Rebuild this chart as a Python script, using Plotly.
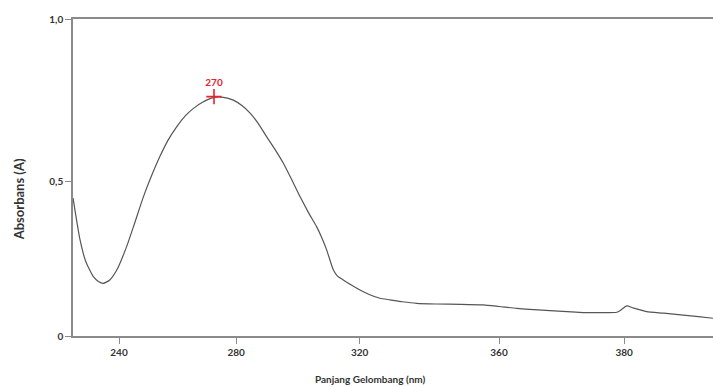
import plotly.graph_objects as go

# Spectrum
wavelength_nm = [225.5, 226.2, 227.7, 229.5, 231.9, 233.5, 235.0, 237.0, 239.3, 242.4, 245.0, 247.7,
                 250.3, 252.9, 255.5, 258.2, 261.0, 263.5, 266.5, 269.8, 273.0, 276.1, 278.8, 281.4,
                 284.0, 286.6, 289.3, 291.9, 294.6, 297.2, 299.8, 302.4, 304.0, 305.6, 307.7, 309.0,
                 310.8, 313.5, 316.1, 319.0, 322.4, 325.6, 329.5, 334.0, 340.0, 348.0, 355.0, 360.0,
                 365.6, 371.0, 376.1, 381.5, 386.6, 392.0, 397.2, 398.6, 400.3, 402.5, 406.6, 412.0,
                 418.2, 423.0, 427.6]
absorbance = [0.435, 0.39, 0.303, 0.235, 0.187, 0.172, 0.166, 0.176, 0.208, 0.282, 0.358, 0.439,
              0.506, 0.566, 0.618, 0.660, 0.695, 0.718, 0.738, 0.752, 0.753, 0.744, 0.727, 0.703,
              0.670, 0.629, 0.588, 0.545, 0.492, 0.439, 0.390, 0.345, 0.311, 0.271, 0.208, 0.189,
              0.177, 0.160, 0.145, 0.131, 0.119, 0.114, 0.108, 0.103, 0.101, 0.100, 0.098, 0.093,
              0.087, 0.083, 0.080, 0.077, 0.074, 0.074, 0.075, 0.083, 0.095, 0.088, 0.077, 0.072,
              0.066, 0.061, 0.056]

peak_nm = [270]
peak_abs = [0.755]
peak_label = ["270"]

x_tick_vals = [240, 277, 316, 360, 399.5]
x_tick_text = ["240", "280", "320", "360", "380"]
y_tick_vals = [0, 0.486, 1.0]
y_tick_text = ["0", "0,5", "1,0"]

FONT = "Lato, 'Open Sans', sans-serif"

fig = go.Figure()
fig.add_trace(go.Scatter(x=wavelength_nm, y=absorbance, mode="lines",
                         line=dict(color="#555555", width=1.2, shape="spline", smoothing=0.6),
                         hoverinfo="skip", showlegend=False))
fig.add_trace(go.Scatter(x=peak_nm, y=peak_abs, mode="markers+text",
                         marker=dict(symbol="cross-thin", size=11, line=dict(color="#e8222a", width=1.6)),
                         text=["<b>" + t + "</b>" for t in peak_label], textposition="top center",
                         textfont=dict(color="#e8222a", size=10, family=FONT),
                         hoverinfo="skip", showlegend=False))

fig.update_layout(
    width=713, height=387,
    margin=dict(l=73, r=0, t=19, b=51),
    paper_bgcolor="white", plot_bgcolor="white",
    font=dict(family=FONT, color="#333333"),
    xaxis=dict(range=[225.47, 427.58], showgrid=False, zeroline=False,
               showline=True, linecolor="#8a8a8a", linewidth=1.5, mirror=True,
               ticks="outside", ticklen=6, tickcolor="#8a8a8a", tickwidth=1,
               tickvals=x_tick_vals, ticktext=["<b>" + t + "</b>" for t in x_tick_text],
               tickfont=dict(size=10, family=FONT, color="#333333")),
    yaxis=dict(range=[0, 1.0], showgrid=False, zeroline=False,
               showline=True, linecolor="#8a8a8a", linewidth=1.5,
               ticks="outside", ticklen=6, tickcolor="#8a8a8a", tickwidth=1,
               tickvals=y_tick_vals, ticktext=["<b>" + t + "</b>" for t in y_tick_text],
               tickfont=dict(size=10, family=FONT, color="#333333")),
    annotations=[
        dict(text="<b>Absorbans (A)</b>", xref="paper", yref="paper", x=-0.085, y=0.43,
             textangle=-90, showarrow=False, font=dict(size=13, family=FONT, color="#333333"),
             xanchor="center", yanchor="middle"),
        dict(text="<b>Panjang Gelombang (nm)</b>", xref="paper", yref="paper", x=0.465, y=-0.135,
             showarrow=False, font=dict(size=10, family=FONT, color="#333333"),
             xanchor="center", yanchor="middle"),
    ],
)

fig.write_html("out.html")
